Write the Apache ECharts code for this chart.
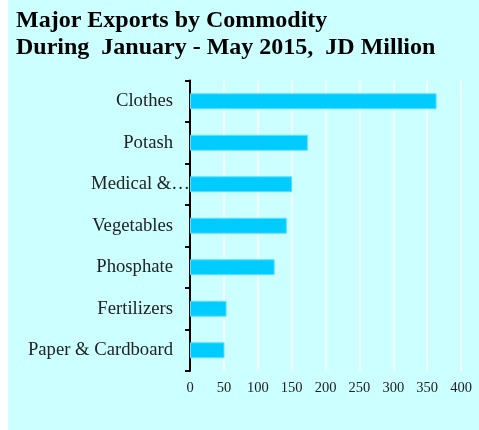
<!DOCTYPE html>
<html>
<head>
<meta charset="utf-8">
<script src="https://cdn.jsdelivr.net/npm/echarts@6/dist/echarts.min.js"></script>
<style>
html, body { margin: 0; padding: 0; background: #ffffff; }
#main { position: absolute; left: 8px; top: 0; width: 471px; height: 430px; background: #ccffff; }
</style>
</head>
<body>
<div id="main"></div>
<script>
// commodities, top to bottom
var categories = ['Clothes', 'Potash', 'Medical &…', 'Vegetables', 'Phosphate', 'Fertilizers', 'Paper & Cardboard']
// JD million, Jan - May 2015
var values = [364, 174, 151, 143, 125, 54, 51]
var xTicks = [0, 50, 100, 150, 200, 250, 300, 350, 400]

var serif = '"Liberation Serif", "Times New Roman", serif'
var chart = echarts.init(document.getElementById('main'))
var option = {
    backgroundColor: '#ccffff',
    animation: false,
    title: {
        text: 'Major Exports by Commodity\nDuring  January - May 2015,  JD Million',
        left: 8,
        top: 7,
        padding: 0,
        textStyle: {
            fontFamily: serif,
            fontSize: 24,
            fontWeight: 'bold',
            color: '#000000',
            lineHeight: 27
        }
    },
    grid: {
        left: 182,
        right: 18,
        top: 80.5,
        bottom: 59
    },
    xAxis: {
        type: 'value',
        min: xTicks[0],
        max: xTicks[xTicks.length - 1],
        interval: 50,
        axisLine: {show: false},
        axisTick: {show: false},
        axisLabel: {
            fontFamily: serif,
            fontSize: 14.5,
            color: '#222222',
            margin: 10
        },
        splitLine: {
            show: true,
            lineStyle: {color: '#ffffff', width: 1.5}
        }
    },
    yAxis: {
        type: 'category',
        data: categories,
        inverse: true,
        axisLine: {
            show: true,
            lineStyle: {color: '#000000', width: 2}
        },
        axisTick: {
            show: true,
            length: 5,
            lineStyle: {color: '#000000', width: 2}
        },
        axisLabel: {
            fontFamily: serif,
            fontSize: 18.67,
            color: '#222222',
            margin: 17,
            // truncated label: the ellipsis hangs past the label edge
            formatter: function (v) {
                if (v.slice(-1) === '…') {
                    return '{t|' + v + '}'
                }
                return v
            },
            rich: {
                t: {fontFamily: serif, fontSize: 18.67, color: '#222222', padding: [0, -17, 0, 0]}
            }
        }
    },
    series: [{
        type: 'bar',
        data: values,
        barWidth: 16,
        itemStyle: {
            color: '#00ccff',
            borderColor: '#66ddff',
            borderWidth: 1
        }
    }]
}
chart.setOption(option)
</script>
</body>
</html>
